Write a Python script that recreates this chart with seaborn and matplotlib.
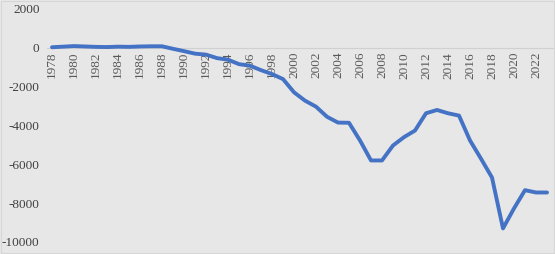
import matplotlib
matplotlib.use("Agg")
import matplotlib.pyplot as plt
import seaborn as sns
import pandas as pd
import numpy as np

years = list(range(1978, 2024))
values = [30, 60, 90, 70, 50, 40, 60, 50, 70, 80, 80, -50, -170, -300, -350,
          -530, -610, -840, -920, -1150, -1350, -1610, -2290, -2720, -3030,
          -3550, -3850, -3860, -4770, -5800, -5800, -5030, -4600, -4260,
          -3370, -3200, -3370, -3490, -4770, -5710, -6680, -9300, -8270,
          -7330, -7450, -7450]
tick_years = list(range(1978, 2024, 2))
y_ticks = [2000, 0, -2000, -4000, -6000, -8000, -10000]

df = pd.DataFrame({"year": years, "value": values})

sns.set_theme(style="white")
plt.rcParams["font.family"] = ["Liberation Serif", "DejaVu Serif"]

bg = "#E7E7E7"
fig = plt.figure(figsize=(5.55, 2.54), dpi=100, facecolor=bg)
ax = fig.add_axes([46.5 / 555, 12 / 254, (552.5 - 46.5) / 555, (242 - 9) / 254])
ax.set_facecolor(bg)

sns.lineplot(data=df, x="year", y="value", ax=ax, color="#4472C4",
             linewidth=2.8, solid_joinstyle="round")

for s in ["top", "right", "left"]:
    ax.spines[s].set_visible(False)
ax.spines["bottom"].set_position(("data", 0))
ax.spines["bottom"].set_color("#D0D0D0")
ax.spines["bottom"].set_linewidth(0.8)
ax.spines["bottom"].set_zorder(0)

ax.set_xlim(1977.5, 2023.5)
ax.set_ylim(-10000, 2000)
ax.set_yticks(y_ticks)
ax.set_yticklabels([str(v) for v in y_ticks], fontsize=9.5, color="#404040")
ax.set_xticks(tick_years)
ax.set_xticklabels([str(y) for y in tick_years], fontsize=9.5, color="#595959")
ax.set_xticks([y - 0.5 for y in tick_years], minor=True)
ax.tick_params(axis="x", which="major", length=0, pad=3, labelrotation=90)
ax.tick_params(axis="x", which="minor", length=4, color="#D0D0D0",
               direction="inout")
ax.tick_params(axis="y", length=0, pad=5)
ax.set_xlabel("")
ax.set_ylabel("")

fig.patches.append(plt.Rectangle((0.001, 0.002), 0.997, 0.995,
                                 transform=fig.transFigure, fill=False,
                                 edgecolor="#D6D6D6", linewidth=0.8))

fig.savefig("out.png", dpi=100, facecolor=bg)
